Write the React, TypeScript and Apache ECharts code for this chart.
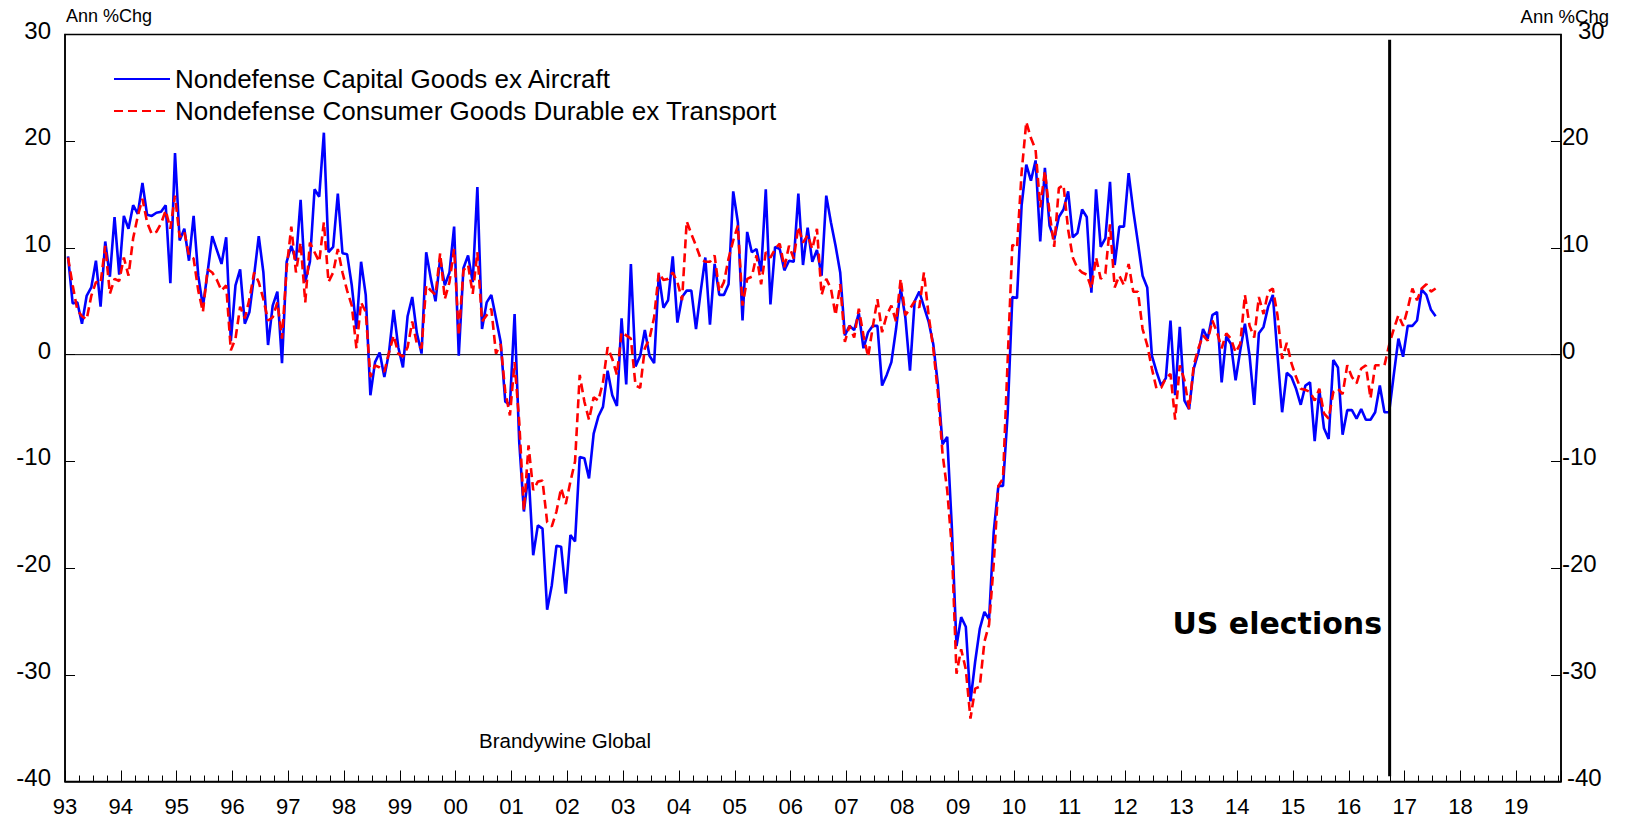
import React, { useEffect, useRef } from "react";
import * as echarts from "echarts";

// Monthly data, starting Jan 1993 (Ann %Chg)
const capitalGoods: number[] = [
  9.2, 4.8, 4.9, 2.9, 5.5, 6.3, 8.8, 4.5, 10.6, 7.3, 12.9, 7.5,
  13.0, 11.8, 14.0, 13.2, 16.1, 13.1, 13.0, 13.3, 13.4, 14.0, 6.7, 18.9,
  10.7, 11.8, 8.8, 13.0, 7.4, 4.5, 7.7, 11.1, 9.8, 8.5, 11.0, 1.3,
  6.5, 8.0, 2.9, 4.0, 7.4, 11.1, 7.7, 0.9, 4.6, 5.9, -0.8, 8.7,
  10.2, 8.8, 14.5, 6.8, 8.7, 15.5, 14.8, 20.8, 9.6, 10.1, 15.1, 9.5,
  9.4, 6.5, 2.4, 8.7, 5.6, -3.8, -0.7, 0.2, -2.1, 0.2, 4.2, 0.7,
  -1.2, 3.6, 5.4, 2.0, 0.1, 9.6, 7.1, 5.0, 9.0, 6.5, 7.7, 12.0,
  -0.1, 8.1, 9.3, 6.8, 15.7, 2.4, 4.9, 5.6, 3.4, 1.2, -4.4, -4.7,
  3.8, -8.2, -14.7, -11.1, -18.8, -16.0, -16.3, -23.9, -21.6, -17.9, -18.0, -22.4,
  -16.9, -17.5, -9.6, -9.7, -11.6, -7.4, -5.8, -4.9, -1.5, -3.8, -4.8, 3.4,
  -2.8, 8.5, -1.1, -0.1, 2.3, -0.1, -0.8, 7.5, 4.4, 5.1, 9.2, 3.0,
  5.4, 6.0, 6.0, 2.4, 5.9, 9.1, 2.8, 8.5, 5.6, 5.6, 6.6, 15.3,
  12.4, 3.2, 11.5, 9.6, 9.9, 7.8, 15.5, 4.7, 10.1, 9.9, 7.9, 8.8,
  8.7, 15.1, 8.4, 11.9, 8.7, 9.8, 7.4, 14.9, 12.4, 10.2, 7.7, 1.8,
  2.7, 2.3, 3.9, 0.6, 2.1, 2.7, 2.7, -2.9, -1.9, -0.7, 2.4, 6.2,
  3.5, -1.5, 5.0, 5.9, 4.5, 3.1, 1.0, -2.8, -8.4, -7.7, -16.2, -27.3,
  -24.6, -25.5, -32.5, -28.8, -25.7, -24.1, -24.8, -16.6, -12.3, -12.3, -5.5, 5.4,
  5.3, 14.0, 17.8, 16.3, 18.2, 10.6, 17.5, 12.1, 10.8, 12.9, 13.6, 15.3,
  11.0, 11.4, 13.6, 12.9, 5.8, 15.5, 10.1, 10.9, 16.2, 8.4, 12.0, 12.0,
  17.0, 13.5, 10.5, 7.4, 6.3, -0.1, -1.6, -2.9, -2.2, 3.2, -3.8, 2.6,
  -4.3, -5.1, -1.3, 0.2, 2.4, 1.5, 3.7, 4.0, -2.6, 1.7, 1.0, -2.4,
  0.4, 2.9, -0.1, -4.7, 2.0, 2.6, 4.5, 5.6, 0.0, -5.4, -1.7, -2.1,
  -3.2, -4.7, -2.9, -2.6, -8.1, -3.3, -6.9, -7.9, -0.5, -1.2, -7.5, -5.2,
  -5.2, -6.0, -5.1, -6.1, -6.1, -5.4, -2.9, -5.4, -5.4, -1.9, 1.5, -0.2,
  2.7, 2.7, 3.2, 6.1, 5.6, 4.2, 3.6
];

const consumerDurables: number[] = [
  9.1, 6.5, 4.2, 3.6, 3.3, 5.5, 6.8, 6.7, 10.2, 5.7, 7.1, 6.9,
  9.1, 7.4, 10.9, 13.0, 14.6, 12.4, 11.3, 11.5, 12.3, 13.5, 11.8, 14.9,
  11.0, 11.5, 9.3, 9.0, 6.0, 4.0, 8.0, 7.7, 7.0, 6.0, 6.5, 0.4,
  1.5, 4.5, 3.4, 5.2, 7.7, 6.8, 5.2, 3.2, 3.5, 4.9, 1.5, 8.1,
  12.0, 7.7, 10.5, 4.9, 10.5, 9.6, 8.7, 12.4, 6.8, 7.7, 9.9, 7.7,
  6.0, 4.6, 0.6, 4.9, 4.0, -2.1, -1.0, -1.2, -1.6, 0.2, 1.8, 0.1,
  -0.2, 0.7, 3.1, 1.0, 0.6, 6.5, 6.0, 5.6, 9.5, 5.2, 6.8, 9.9,
  1.8, 7.9, 8.4, 5.7, 9.6, 3.1, 3.7, 4.3, 0.1, 1.0, -3.5, -5.7,
  -0.7, -6.3, -14.6, -8.5, -12.7, -11.9, -11.8, -15.7, -16.1, -14.7, -12.5, -14.0,
  -11.9, -10.0, -1.9, -4.4, -6.1, -4.0, -4.3, -2.6, 0.7, -0.4, -1.9, 2.1,
  1.8, 1.5, -2.9, -3.1, 0.6, 1.5, 3.5, 7.7, 7.0, 7.1, 7.7, 6.8,
  5.1, 12.5, 11.3, 10.2, 9.0, 8.7, 8.7, 9.3, 5.9, 6.8, 9.0, 10.7,
  12.1, 4.6, 7.1, 7.3, 9.3, 6.6, 9.6, 9.1, 9.9, 10.4, 8.2, 10.2,
  9.0, 12.0, 10.5, 11.2, 9.9, 11.8, 5.6, 7.1, 6.2, 3.7, 6.6, 1.2,
  2.7, 1.6, 4.3, 1.8, -0.2, 2.6, 5.2, 2.1, 3.7, 4.6, 3.1, 7.1,
  3.7, 4.3, 5.0, 4.4, 7.7, 3.7, 0.6, -3.6, -9.3, -12.7, -18.1, -29.9,
  -27.6, -29.5, -34.1, -31.3, -31.1, -26.9, -25.3, -19.6, -12.3, -11.6, -0.5, 10.3,
  10.0, 17.1, 21.8, 20.3, 19.2, 13.8, 17.2, 13.3, 10.1, 15.6, 15.9, 11.7,
  9.1, 8.1, 7.7, 7.5, 6.2, 9.1, 7.1, 7.6, 12.2, 6.3, 7.4, 6.5,
  8.5, 5.9, 5.9, 2.4, 0.9, -1.3, -3.2, -3.1, -2.2, -1.8, -6.1, -1.0,
  -2.4, -5.1, -1.0, 0.6, 1.8, 1.3, 3.2, 2.1, 0.6, 2.0, 1.5, 0.2,
  1.0, 5.6, 2.7, 1.6, 5.4, 3.8, 5.9, 6.2, 3.7, -0.4, 1.1, -0.8,
  -2.1, -3.2, -3.3, -3.5, -4.3, -3.2, -5.5, -6.0, -3.5, -3.2, -3.7, -1.0,
  -2.1, -2.7, -1.3, -1.0, -4.1, -1.0, -1.0, -1.0, 0.9, 2.4, 3.7, 2.7,
  4.3, 6.2, 5.1, 6.2, 6.6, 5.9, 6.2
];

const seriesNames = [
  "Nondefense Capital Goods ex Aircraft",
  "Nondefense Consumer Goods Durable ex Transport",
];
const startYear = 1993;
const axisMaxYear = 2019.8;
const electionYear = 2016.73;
const yTicks = [-40, -30, -20, -10, 0, 10, 20, 30];

const FONT = "'Liberation Sans', Arial, sans-serif";

function toPairs(vals: number[]): [number, number][] {
  return vals.map((v, i) => [startYear + (i + 0.65) / 12, v]);
}

export default function App() {
  const ref = useRef<HTMLDivElement>(null);
  useEffect(() => {
    if (!ref.current) return;
    const chart = echarts.init(ref.current, undefined, { renderer: "svg" });
    const yMin = yTicks[0];
    const yMax = yTicks[yTicks.length - 1];
    const yAxisCommon = {
      type: "value" as const,
      min: yMin,
      max: yMax,
      interval: 10,
      splitLine: { show: false },
      axisLine: { show: true, lineStyle: { color: "#000", width: 1.5 } },
      axisTick: { show: true, inside: true, length: 10, lineStyle: { color: "#000", width: 1 } },
    };
    const lblStyle = { fontSize: 24, fontFamily: FONT, color: "#000" };
    chart.setOption({
      animation: false,
      backgroundColor: "#fff",
      textStyle: { fontFamily: FONT },
      grid: {
        left: 65,
        right: 68,
        top: 34.5,
        bottom: 38.5,
        show: true,
        borderColor: "#000",
        borderWidth: 1.5,
        backgroundColor: "transparent",
      },
      legend: {
        show: true,
        orient: "vertical",
        left: 108,
        top: 61,
        itemWidth: 56,
        itemHeight: 14,
        itemGap: 6,
        data: seriesNames,
        itemStyle: { opacity: 0 },
        textStyle: { fontFamily: FONT, fontSize: 26, color: "#000", lineHeight: 26 },
      },
      xAxis: {
        type: "value",
        min: startYear,
        max: axisMaxYear,
        interval: 1,
        splitLine: { show: false },
        axisLine: { show: true, onZero: false, lineStyle: { color: "#000", width: 1.5 } },
        axisTick: { show: true, inside: true, length: 11, lineStyle: { color: "#000", width: 1 } },
        minorTick: { show: true, splitNumber: 4, length: 6, lineStyle: { color: "#000", width: 1 } },
        axisLabel: {
          color: "#000",
          fontSize: 22,
          fontFamily: FONT,
          margin: 14,
          formatter: (v: number) =>
            Math.abs(v - Math.round(v)) < 1e-6 ? String(Math.round(v) % 100).padStart(2, "0") : "",
        },
      },
      yAxis: [
        {
          ...yAxisCommon,
          position: "left",
          axisLabel: {
            ...lblStyle,
            margin: 14,
            formatter: (v: number) => "{a|" + v + "}",
            rich: { a: { ...lblStyle, padding: [0, 0, 9, 0] } },
          },
        },
        {
          ...yAxisCommon,
          position: "right",
          axisLabel: {
            ...lblStyle,
            margin: 1,
            formatter: (v: number) =>
              v === 30 ? "{s|" + v + "}" : v === -40 ? "{t|" + v + "}" : "{a|" + v + "}",
            rich: {
              a: { ...lblStyle, padding: [0, 0, 9, 0] },
              s: { ...lblStyle, padding: [0, 0, 9, 16] },
              t: { ...lblStyle, padding: [0, 0, 9, 5] },
            },
          },
        },
      ],
      series: [
        {
          name: "zero",
          type: "line",
          data: [
            [startYear, 0],
            [axisMaxYear, 0],
          ],
          symbol: "none",
          silent: true,
          lineStyle: { color: "#000", width: 1 },
          z: 1,
        },
        {
          name: seriesNames[0],
          type: "line",
          data: toPairs(capitalGoods),
          symbol: "none",
          showSymbol: false,
          color: "#0000FF",
          lineStyle: { color: "#0000FF", width: 2.6 },
          z: 3,
        },
        {
          name: seriesNames[1],
          type: "line",
          data: toPairs(consumerDurables),
          symbol: "none",
          showSymbol: false,
          color: "#FF0000",
          lineStyle: { color: "#FF0000", width: 2.6, type: [9, 5] },
          z: 4,
        },
        {
          name: "election",
          type: "line",
          data: [
            [electionYear, 29.5],
            [electionYear, -39.5],
          ],
          symbol: "none",
          silent: true,
          lineStyle: { color: "#000", width: 3 },
          z: 5,
        },
      ],
      graphic: [
        {
          type: "text",
          left: 66,
          top: 7,
          style: { text: "Ann %Chg", fontSize: 18, fontFamily: FONT, fill: "#000" },
        },
        {
          type: "text",
          right: 20,
          top: 7,
          style: { text: "Ann %Chg", fontSize: 18.5, fontFamily: FONT, fill: "#000" },
        },
        {
          type: "text",
          left: 479,
          top: 730,
          style: { text: "Brandywine Global", fontSize: 20.5, fontFamily: FONT, fill: "#000" },
        },
        {
          type: "text",
          right: 1629 - 1382,
          top: 608,
          style: {
            text: "US elections",
            fontSize: 30,
            fontWeight: "bold",
            fontFamily: "'DejaVu Sans', sans-serif",
            fill: "#000",
          },
        },
      ],
    });
    return () => chart.dispose();
  }, []);
  return (
    <div
      ref={ref}
      style={{ position: "fixed", left: 0, top: 0, width: 1629, height: 820, background: "#fff" }}
    />
  );
}
